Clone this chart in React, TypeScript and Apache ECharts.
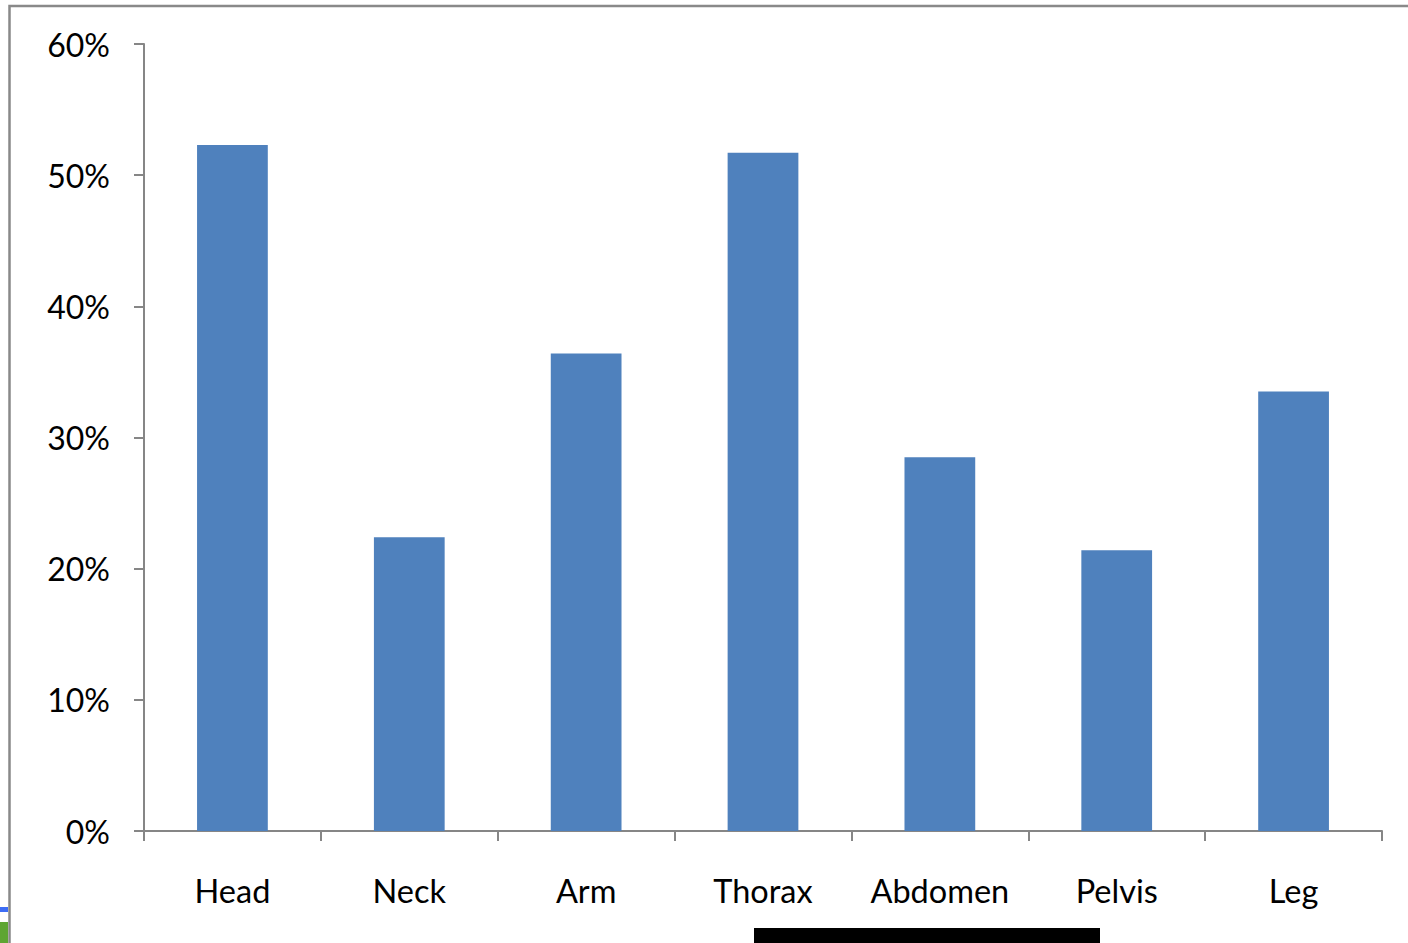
import React, { useEffect, useRef } from "react";
import * as echarts from "echarts";

// Share of injuries by body region
const regions = ["Head", "Neck", "Arm", "Thorax", "Abdomen", "Pelvis", "Leg"];
const shares = [0.523, 0.224, 0.364, 0.517, 0.285, 0.214, 0.335];
const yTicks = { min: 0, max: 0.6, interval: 0.1 };

const AXIS_GREY = "#868686";
const FONT = "Lato, 'Open Sans', sans-serif";

export default function App() {
  const ref = useRef<HTMLDivElement>(null);

  useEffect(() => {
    if (!ref.current) return;
    const chart = echarts.init(ref.current, null, { renderer: "svg" });
    chart.setOption({
      animation: false,
      backgroundColor: "#ffffff",
      grid: { left: 144, right: 26, top: 44, bottom: 112, containLabel: false },
      xAxis: {
        type: "category",
        data: regions,
        boundaryGap: true,
        axisLine: { show: true, lineStyle: { color: AXIS_GREY, width: 2 } },
        axisTick: {
          show: true,
          inside: false,
          length: 10,
          interval: 0,
          lineStyle: { color: AXIS_GREY, width: 2 },
        },
        axisLabel: {
          color: "#000",
          fontFamily: FONT,
          fontSize: 32.5,
          margin: 43,
          interval: 0,
          hideOverlap: false,
        },
        splitLine: { show: false },
      },
      yAxis: {
        type: "value",
        min: yTicks.min,
        max: yTicks.max,
        interval: yTicks.interval,
        axisLine: { show: true, lineStyle: { color: AXIS_GREY, width: 2 } },
        axisTick: { show: true, inside: false, length: 10, lineStyle: { color: AXIS_GREY, width: 2 } },
        axisLabel: {
          color: "#000",
          fontFamily: FONT,
          fontSize: 32,
          margin: 34,
          formatter: (v: number) => `${Math.round(v * 100)}%`,
        },
        splitLine: { show: false },
      },
      series: [
        {
          type: "bar",
          data: shares,
          barCategoryGap: "60%",
          itemStyle: { color: "#4F81BD" },
        },
      ],
      graphic: [
        {
          type: "polyline",
          shape: { points: [[9.5, 943], [9.5, 6], [1408, 6]] },
          style: { stroke: "#898989", lineWidth: 2.5, fill: "none" },
          silent: true,
        },
        {
          type: "rect",
          shape: { x: 754, y: 928, width: 346, height: 15 },
          style: { fill: "#000000" },
          silent: true,
        },
        {
          type: "rect",
          shape: { x: 0, y: 907, width: 8, height: 5 },
          style: { fill: "#3d6cf5" },
          silent: true,
        },
        {
          type: "rect",
          shape: { x: 0, y: 922, width: 8, height: 21 },
          style: { fill: "#5ea533" },
          silent: true,
        },
      ],
    });
    return () => chart.dispose();
  }, []);

  return (
    <div
      ref={ref}
      style={{ position: "fixed", left: 0, top: 0, width: 1408, height: 943 }}
    />
  );
}
